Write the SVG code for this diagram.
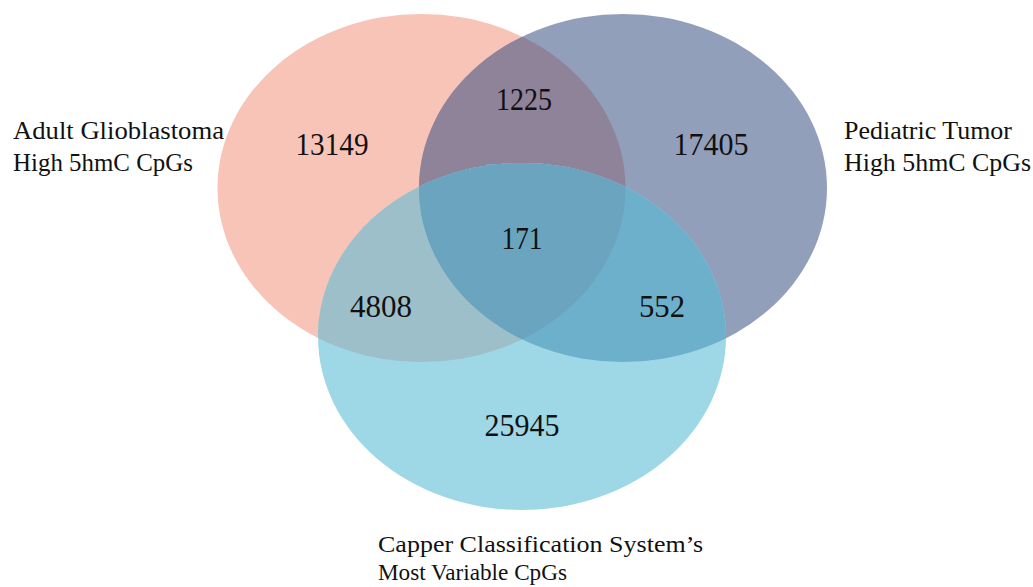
<svg xmlns="http://www.w3.org/2000/svg" width="1033" height="587" viewBox="0 0 1033 587">
<style>
.num{font-family:"Liberation Serif","Times New Roman",serif;font-size:32px;fill:#111;text-anchor:middle}
.lab{font-family:"Liberation Serif","Times New Roman",serif;font-size:26px;fill:#111}
.lab2{font-family:"Liberation Serif","Times New Roman",serif;font-size:24px;fill:#111}
</style>
<defs>
<ellipse id="eA" cx="421.5" cy="188" rx="204" ry="174"/>
<ellipse id="eB" cx="623" cy="188" rx="204" ry="174"/>
<ellipse id="eC" cx="522" cy="336.5" rx="204" ry="173.5"/>
<clipPath id="cA"><use href="#eA"/></clipPath>
<clipPath id="cB"><use href="#eB"/></clipPath>
</defs>
<rect width="1033" height="587" fill="#fff"/>
<g id="set-adult">
<use href="#eA" fill="#F7C4B7"/>
</g>
<g id="set-pediatric">
<use href="#eB" fill="#929FBB"/>
<use href="#eB" fill="#8F839A" clip-path="url(#cA)"/>
</g>
<g id="set-capper">
<use href="#eC" fill="#9ED7E5"/>
<use href="#eC" fill="#9CBFC9" clip-path="url(#cA)"/>
<use href="#eC" fill="#6CB0CC" clip-path="url(#cB)"/>
<g clip-path="url(#cB)"><use href="#eC" fill="#6AA4BF" clip-path="url(#cA)"/></g>
</g>
<g id="counts">
<text class="num" x="332" y="155" textLength="73" lengthAdjust="spacingAndGlyphs">13149</text>
<text class="num" x="524" y="110" textLength="56" lengthAdjust="spacingAndGlyphs">1225</text>
<text class="num" x="711" y="155" textLength="75" lengthAdjust="spacingAndGlyphs">17405</text>
<text class="num" x="522" y="249" textLength="41" lengthAdjust="spacingAndGlyphs">171</text>
<text class="num" x="381" y="317" textLength="62" lengthAdjust="spacingAndGlyphs">4808</text>
<text class="num" x="662" y="317" textLength="46" lengthAdjust="spacingAndGlyphs">552</text>
<text class="num" x="522" y="436" textLength="75" lengthAdjust="spacingAndGlyphs">25945</text>
</g>
<g id="label-adult">
<text class="lab" x="13" y="139" textLength="211" lengthAdjust="spacingAndGlyphs">Adult Glioblastoma</text>
<text class="lab" x="13" y="171" textLength="180" lengthAdjust="spacingAndGlyphs">High 5hmC CpGs</text>
</g>
<g id="label-pediatric">
<text class="lab" x="844" y="139" textLength="168" lengthAdjust="spacingAndGlyphs">Pediatric Tumor</text>
<text class="lab" x="844" y="171" textLength="187" lengthAdjust="spacingAndGlyphs">High 5hmC CpGs</text>
</g>
<g id="label-capper">
<text class="lab2" x="378" y="552" textLength="325" lengthAdjust="spacingAndGlyphs">Capper Classification System’s</text>
<text class="lab2" x="378" y="580" textLength="189" lengthAdjust="spacingAndGlyphs">Most Variable CpGs</text>
</g>
</svg>
